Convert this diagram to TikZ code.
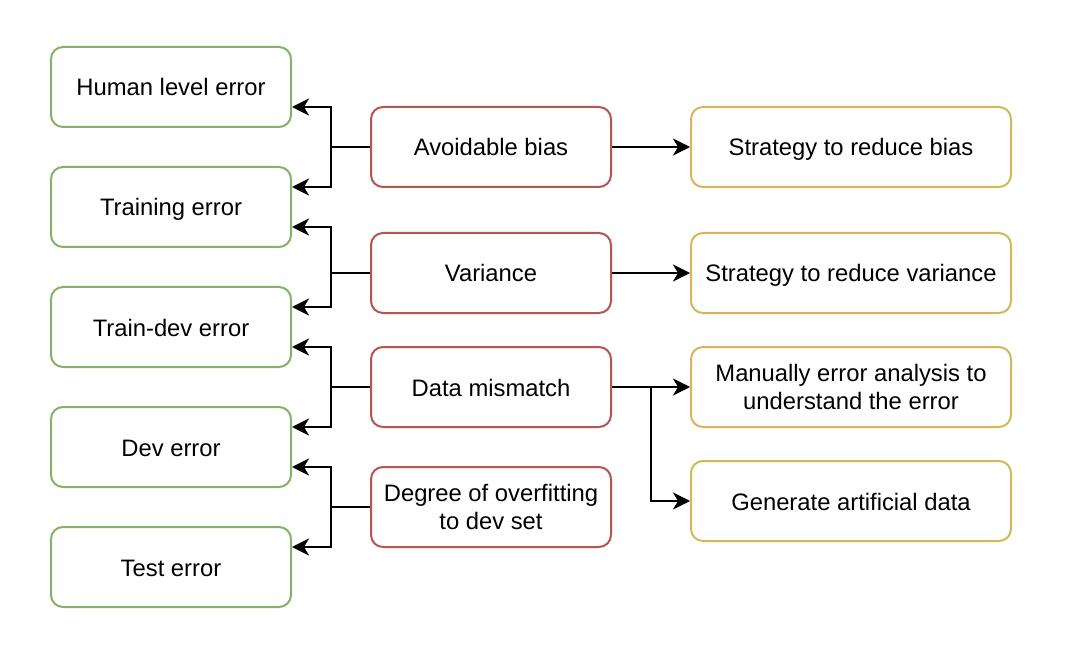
\documentclass[tikz,border=0pt]{standalone}
\usepackage{fontspec}
\setmainfont{Liberation Sans}
\usetikzlibrary{arrows.meta}
\definecolor{gstroke}{HTML}{82B366}
\definecolor{rstroke}{HTML}{B85450}
\definecolor{ystroke}{HTML}{D6B656}
\tikzset{
  box/.style={draw, line width=2pt, rounded corners=12pt, minimum height=80pt,
    align=center, inner sep=0pt, font=\fontsize{23.8}{28}\selectfont, fill=white},
  one/.style={text height=22pt, text depth=4pt},
  two/.style={text height=22pt, text depth=32pt},
  gbox/.style={box, one, draw=gstroke, minimum width=240pt},
  rbox/.style={box, draw=rstroke, minimum width=240pt},
  ybox/.style={box, draw=ystroke, minimum width=320pt},
  conn/.style={line width=2pt, -{Stealth[length=17pt,width=17pt,inset=5pt]}},
  plain/.style={line width=2pt},
}
\begin{document}
\begin{tikzpicture}[x=1pt,y=-1pt]
\useasboundingbox (0,0) rectangle (1084,668);
% left column
\node[gbox] (hle) at (171,87) {Human level error};
\node[gbox] (tre) at (171,207) {Training error};
\node[gbox] (tde) at (171,327) {Train-dev error};
\node[gbox] (dve) at (171,447) {Dev error};
\node[gbox] (tse) at (171,567) {Test error};
% middle column
\node[rbox, one] (ab) at (491,147) {Avoidable bias};
\node[rbox, one] (va) at (491,273) {Variance};
\node[rbox, one] (dm) at (491,387) {Data mismatch};
\node[rbox] (dof) at (491,507) {Degree of overfitting\\to dev set};
% right column
\node[ybox, one] (srb) at (851,147) {Strategy to reduce bias};
\node[ybox, one] (srv) at (851,273) {Strategy to reduce variance};
\node[ybox] (mea) at (851,387) {Manually error analysis to\\understand the error};
\node[ybox, one] (gad) at (851,501) {Generate artificial data};
% junctions
\coordinate (j1) at (331,147);
\coordinate (j2) at (331,273);
\coordinate (j3) at (331,387);
\coordinate (j4) at (331,507);
\coordinate (j5) at (651,387);
% left connectors
\draw[plain] (ab.west) -- (j1);
\draw[conn] (j1) |- ([yshift=-20pt]hle.east);
\draw[conn] (j1) |- ([yshift=20pt]tre.east);
\draw[plain] (va.west) -- (j2);
\draw[conn] (j2) |- ([yshift=-20pt]tre.east);
\draw[conn] (j2) |- ([yshift=20pt]tde.east);
\draw[plain] (dm.west) -- (j3);
\draw[conn] (j3) |- ([yshift=-20pt]tde.east);
\draw[conn] (j3) |- ([yshift=20pt]dve.east);
\draw[plain] (dof.west) -- (j4);
\draw[conn] (j4) |- ([yshift=-20pt]dve.east);
\draw[conn] (j4) |- ([yshift=20pt]tse.east);
% right connectors
\draw[conn] (ab.east) -- (srb.west);
\draw[conn] (va.east) -- (srv.west);
\draw[plain] (dm.east) -- (j5);
\draw[conn] (j5) -- (mea.west);
\draw[conn] (j5) |- (gad.west);
\end{tikzpicture}
\end{document}
